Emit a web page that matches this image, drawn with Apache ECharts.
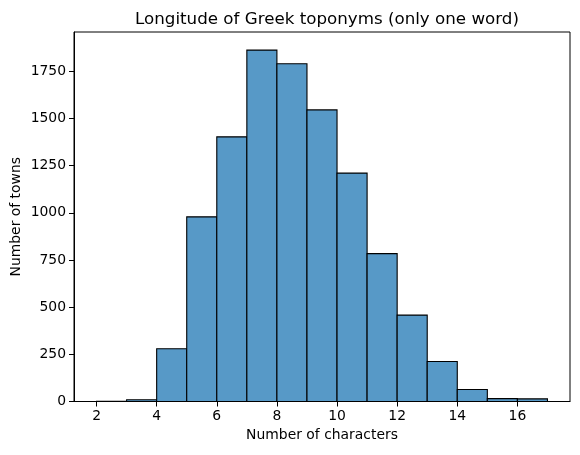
<!DOCTYPE html>
<html>
<head>
<meta charset="utf-8">
<script src="https://cdn.jsdelivr.net/npm/echarts@6/dist/echarts.min.js"></script>
<style>html,body{margin:0;padding:0;background:#fff}#c{width:580px;height:455px}</style>
</head>
<body>
<div id="c"></div>
<script>
const binStarts = [2,3,4,5,6,7,8,9,10,11,12,13,14,15,16];
const binWidth = 1;
const counts = [1, 9, 280, 979, 1403, 1863, 1791, 1546, 1211, 784, 458, 212, 64, 15, 14];
const xTicks = [2,4,6,8,10,12,14,16];
const yTicks = [0,250,500,750,1000,1250,1500,1750];

const data = binStarts.map((s,i)=>[s, s+binWidth, counts[i]]);
const font = 'DejaVu Sans';
const chart = echarts.init(document.getElementById('c'), null, {renderer:'canvas'});
chart.setOption({
  animation:false,
  title:{text:'Longitude of Greek toponyms (only one word)', left:322, textAlign:'center', top:6,
    textStyle:{fontFamily:font, fontSize:16.7, fontWeight:'normal', color:'#000'}},
  grid:{left:74, right:10, top:32, bottom:53.5, containLabel:false, outerBoundsMode:'none',
    show:true, borderColor:'#000', borderWidth:1, backgroundColor:'transparent'},
  xAxis:{type:'value', min:1.25, max:17.75,
    name:'Number of characters', nameLocation:'middle', nameGap:27, nameMoveOverlap:false,
    nameTextStyle:{fontFamily:font, fontSize:13.9, color:'#000'},
    axisLine:{show:true, onZero:false, lineStyle:{color:'#000', width:1}},
    axisTick:{show:true, length:5, lineStyle:{color:'#000'}, customValues:xTicks},
    axisLabel:{fontFamily:font, fontSize:13.9, color:'#000', margin:8, customValues:xTicks,
      formatter:(v)=>String(v)},
    splitLine:{show:false}},
  yAxis:{type:'value', min:0, max:1959,
    name:'Number of towns', nameLocation:'middle', nameGap:51, nameMoveOverlap:false,
    nameTextStyle:{fontFamily:font, fontSize:13.9, color:'#000'},
    axisLine:{show:true, lineStyle:{color:'#000', width:1}},
    axisTick:{show:true, length:5, lineStyle:{color:'#000'}, customValues:yTicks},
    axisLabel:{fontFamily:font, fontSize:13.9, color:'#000', margin:8, customValues:yTicks,
      formatter:(v)=>String(v)},
    splitLine:{show:false}},
  series:[{
    type:'custom',
    data:data,
    encode:{x:[0,1], y:2},
    renderItem:function(params, api){
      const p0 = api.coord([api.value(0), 0]);
      const p1 = api.coord([api.value(1), api.value(2)]);
      return {type:'rect', shape:{x:p0[0], y:p1[1], width:p1[0]-p0[0], height:p0[1]-p1[1]},
        style:{fill:'#5799c7', stroke:'#000', lineWidth:1.1}};
    }
  }]
});
</script>
</body>
</html>
